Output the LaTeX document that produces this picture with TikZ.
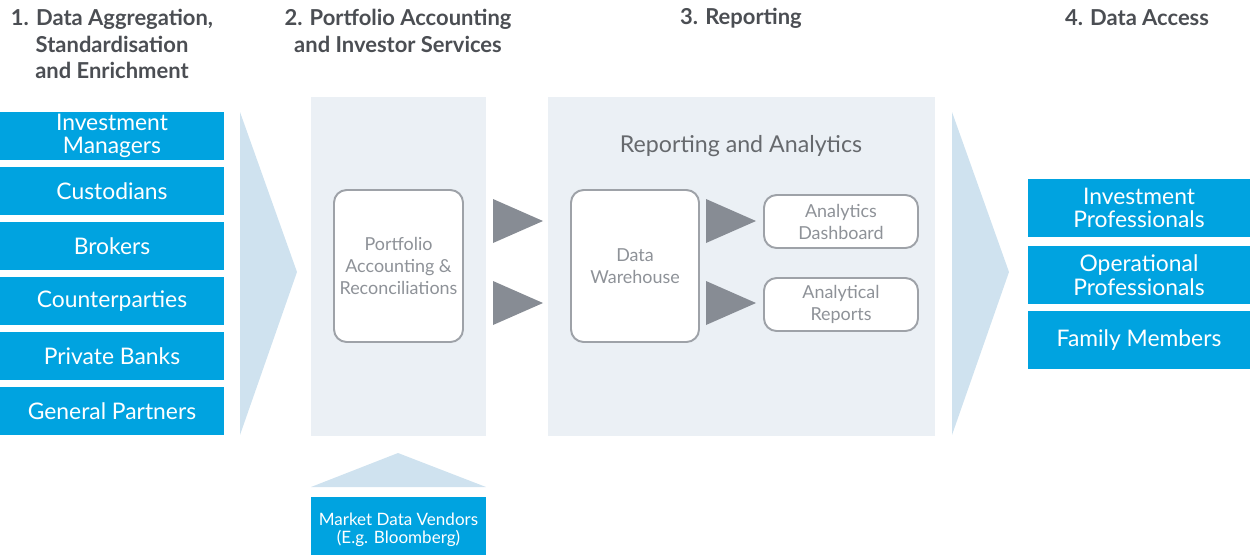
\documentclass[tikz,border=0pt]{standalone}
\usepackage{fontspec}
\setmainfont{Lato}
\usetikzlibrary{positioning}

\definecolor{boxblue}{HTML}{00A3E0}
\definecolor{chevblue}{HTML}{CFE2EF}
\definecolor{panelgray}{HTML}{EBF0F5}
\definecolor{trigray}{HTML}{878C94}
\definecolor{edgegray}{HTML}{9EA2A8}
\definecolor{softtext}{HTML}{8E9298}
\definecolor{headtext}{HTML}{4B4E53}

\tikzset{
  head/.style={align=center,text=headtext,font=\bfseries\fontsize{12.5}{15}\selectfont},
  srcbox/.style={fill=boxblue,text=white,align=center,inner sep=0pt,
    minimum width=4.48cm,minimum height=0.96cm,font=\fontsize{13}{13.3}\selectfont},
  userbox/.style={srcbox,minimum width=4.44cm,minimum height=1.16cm},
  panel/.style={fill=panelgray,inner sep=0pt,minimum height=6.78cm},
  stepbox/.style={draw=edgegray,line width=1.1pt,fill=white,rounded corners=0.25cm,
    align=center,text=softtext,inner sep=0pt,font=\fontsize{10.2}{12.5}\selectfont},
}

\begin{document}
\begin{tikzpicture}[x=0.02cm,y=-0.02cm]
  \useasboundingbox (0,0) rectangle (1250,555);

  % column headers
  \node[head] (h1) at (112,44) {1. Data Aggregation,\\Standardisation\\and Enrichment};
  \node[head] (h2) at (398,31) {2. Portfolio Accounting\\and Investor Services};
  \node[head] (h3) at (741,18) {3. Reporting};
  \node[head] (h4) at (1137,18) {4. Data Access};

  % sources
  \node[srcbox] (s1) at (112,136) {Investment\\Managers};
  \node[srcbox] (s2) at (112,191) {Custodians};
  \node[srcbox] (s3) at (112,246) {Brokers};
  \node[srcbox] (s4) at (112,301) {Counterparties};
  \node[srcbox] (s5) at (112,356) {Private Banks};
  \node[srcbox] (s6) at (112,411) {General Partners};

  % big chevrons
  \fill[chevblue] (240,112) -- (297,272) -- (240,435) -- cycle;
  \fill[chevblue] (952,112) -- (1009,272) -- (952,435) -- cycle;

  % panels
  \node[panel,minimum width=3.5cm] (p2) at (398.5,266.5) {};
  \node[panel,minimum width=7.74cm] (p3) at (741.5,266.5) {};
  \node[text=headtext!85,font=\fontsize{13.2}{15}\selectfont] (p3t) at (741,146) {Reporting and Analytics};

  \node[stepbox,minimum width=2.58cm,minimum height=3.04cm] (a1) at (398.5,266) {Portfolio\\Accounting \&\\Reconciliations};
  \node[stepbox,minimum width=2.56cm,minimum height=3.04cm] (a2) at (635,266) {Data\\Warehouse};
  \node[stepbox,minimum width=3.08cm,minimum height=1.06cm] (b1) at (841,221.5) {Analytics\\Dashboard};
  \node[stepbox,minimum width=3.08cm,minimum height=1.06cm] (b2) at (841,304.5) {Analytical\\Reports};

  % flow triangles
  \fill[trigray] (493,199) -- (543,221) -- (493,243) -- cycle;
  \fill[trigray] (493,281) -- (543,303) -- (493,325) -- cycle;
  \fill[trigray] (706,199) -- (756,221) -- (706,243) -- cycle;
  \fill[trigray] (706,281) -- (756,303) -- (706,325) -- cycle;

  % market data feed
  \fill[chevblue] (311,487) -- (398,453) -- (486,487) -- cycle;
  \node[srcbox,minimum width=3.5cm,minimum height=1.16cm] (m1) at (398.5,526) {};
  \node[text=white,align=center,inner sep=0pt,font=\fontsize{9.7}{10.3}\selectfont] (m1t) at (398.5,530) {Market Data Vendors\\(E.g. Bloomberg)};

  % users
  \node[userbox] (u1) at (1139,208) {Investment\\Professionals};
  \node[userbox] (u2) at (1139,275) {Operational\\Professionals};
  \node[userbox] (u3) at (1139,340) {Family Members};

\end{tikzpicture}
\end{document}
